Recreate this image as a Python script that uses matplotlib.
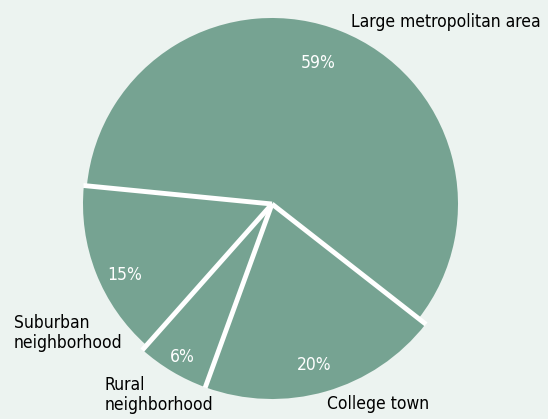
import numpy as np
import matplotlib.pyplot as plt

# share of respondents by where they live
categories = ["Large metropolitan area", "Suburban\nneighborhood",
              "Rural\nneighborhood", "College town"]
shares = [59, 15, 6, 20]
pct_labels = ["59%", "15%", "6%", "20%"]

bg = "#ecf3f0"
green = "#76a392"
fam = ["DejaVu Sans"]

W, H = 548, 419
fig = plt.figure(figsize=(W / 100, H / 100), dpi=100, facecolor=bg)
ax = fig.add_axes([0, 0, 1, 1])

cx, cy = 272, H - 204
start = -38
radii = [186, 189, 195, 195]
wedges, _ = ax.pie(shares, colors=[green] * 4, startangle=start,
                   counterclock=True, center=(cx, cy), radius=186,
                   wedgeprops=dict(edgecolor="none", linewidth=0),
                   frame=True)
for w, r in zip(wedges, radii):
    w.set_radius(r)

# white separators between slices
edges = start + 360 * np.cumsum([0] + shares[:-1]) / sum(shares)
for i, a in enumerate(edges):
    t = np.deg2rad(a)
    r = max(radii[i], radii[i - 1]) + 0.5
    ax.plot([cx, cx + r * np.cos(t)], [cy, cy + r * np.sin(t)],
            color="white", lw=3.5, solid_capstyle="butt")

ax.set_xlim(0, W)
ax.set_ylim(0, H)
ax.set_aspect("equal")
ax.axis("off")

# percentages inside the slices
pct_pos = [(318, 63), (125, 275), (182, 357), (314, 365)]
for (x, y), s in zip(pct_pos, pct_labels):
    ax.text(x, H - y, s, color="white", fontsize=12.5, family=fam,
            fontstretch="condensed", weight="medium",
            ha="center", va="center")

# category names outside
name_pos = [(351, 22), (14, 333), (105, 395), (327, 404)]
for (x, y), s in zip(name_pos, categories):
    ax.text(x, H - y, s, color="black", fontsize=12.5, family=fam,
            fontstretch="condensed", ha="left", va="center",
            linespacing=1.15)

fig.savefig("out.png", dpi=100, facecolor=bg)
